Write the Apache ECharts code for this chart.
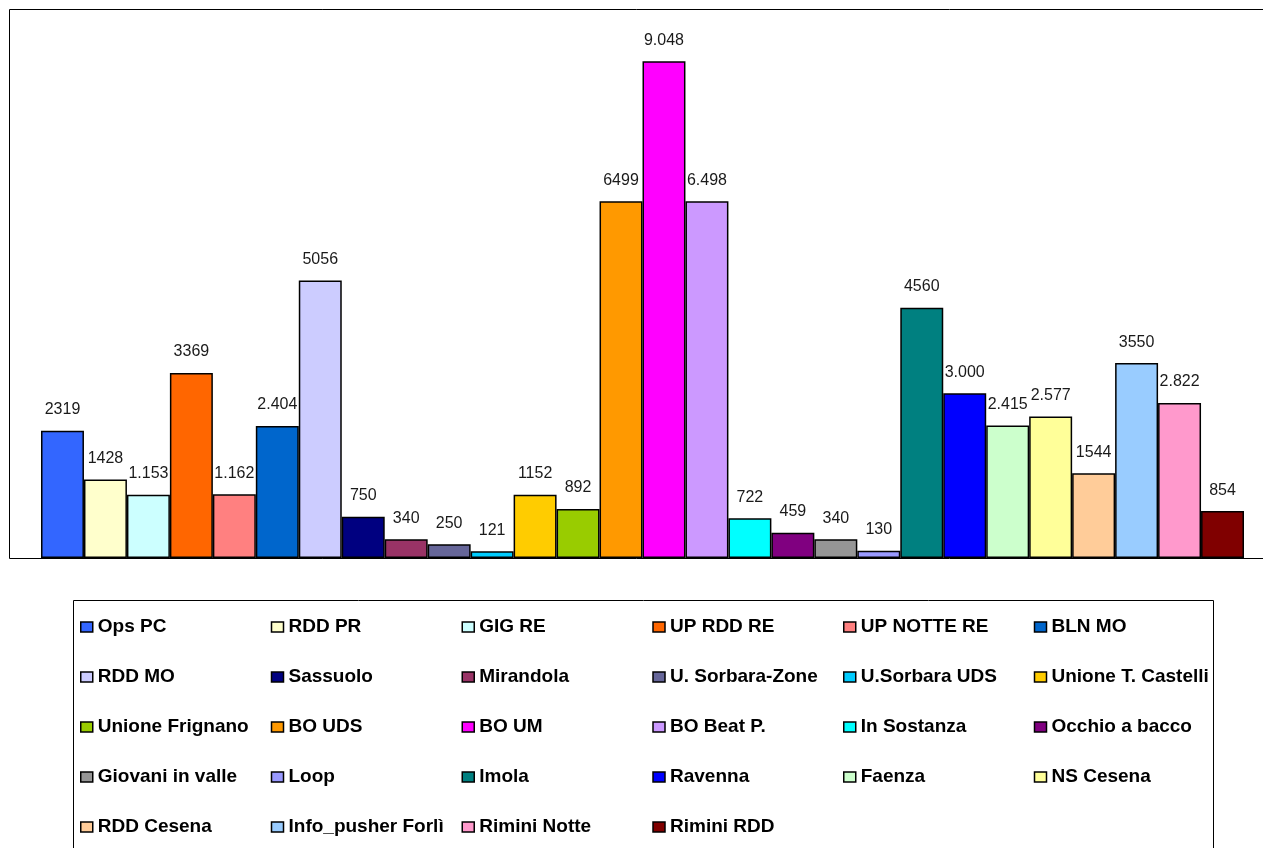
<!DOCTYPE html>
<html>
<head>
<meta charset="utf-8">
<script src="https://cdn.jsdelivr.net/npm/echarts@6/dist/echarts.min.js"></script>
<style>
html,body{margin:0;padding:0;background:#fff;}
#chart{width:1263px;height:848px;}
</style>
</head>
<body>
<div id="chart"></div>
<script>
const names = ['Ops PC','RDD PR','GIG RE','UP RDD RE','UP NOTTE RE','BLN MO',
  'RDD MO','Sassuolo','Mirandola','U. Sorbara-Zone','U.Sorbara UDS','Unione T. Castelli',
  'Unione Frignano','BO UDS','BO UM','BO Beat P.','In Sostanza','Occhio a bacco',
  'Giovani in valle','Loop','Imola','Ravenna','Faenza','NS Cesena',
  'RDD Cesena','Info_pusher Forlì','Rimini Notte','Rimini RDD'];
const values = [2319,1428,1153,3369,1162,2404,5056,750,340,250,121,1152,892,6499,9048,6498,722,459,340,130,4560,3000,2415,2577,1544,3550,2822,854];
const valueLabels = ['2319','1428','1.153','3369','1.162','2.404','5056','750','340','250','121','1152','892','6499','9.048','6.498','722','459','340','130','4560','3.000','2.415','2.577','1544','3550','2.822','854'];
const colors = ['#3366FF','#FFFFCC','#CCFFFF','#FF6600','#FF8080','#0066CC',
  '#CCCCFF','#000080','#993366','#666699','#00CCFF','#FFCC00',
  '#99CC00','#FF9900','#FF00FF','#CC99FF','#00FFFF','#800080',
  '#969696','#9999FF','#008080','#0000FF','#CCFFCC','#FFFF99',
  '#FFCC99','#99CCFF','#FF99CC','#800000'];

const chart = echarts.init(document.getElementById('chart'), null, {renderer:'canvas'});
const series = names.map((n,i)=>({
  name:n, type:'bar', data:[values[i]],
  barGap:'0%', barCategoryGap:'0%',
  itemStyle:{color:colors[i], borderColor:'#000', borderWidth:1.5},
  label:{show:true, position:'top', distance:13, formatter:()=>valueLabels[i],
    fontFamily:'Liberation Sans, Arial, sans-serif', fontSize:16, lineHeight:16, color:'#1a1a1a'},
  emphasis:{disabled:true},
  animation:false
}));

chart.setOption({
  animation:false,
  backgroundColor:'#fff',
  grid:{left:41, top:9, width:1203, bottom:290, show:false, containLabel:false},
  xAxis:{type:'category', data:[''], axisLine:{show:false}, axisTick:{show:false}, axisLabel:{show:false}},
  yAxis:{type:'value', min:0, max:10000, show:false, splitLine:{show:false}},
  legend:{
    show:true, orient:'horizontal', left:80, top:602, width:1200,
    padding:0, itemGap:0, itemWidth:12, itemHeight:10, icon:'rect',
    itemStyle:{borderColor:'#000', borderWidth:1.5},
    textStyle:{fontFamily:'Liberation Sans, Arial, sans-serif', fontSize:19, fontWeight:'bold', color:'#000', width:173, lineHeight:50, overflow:'truncate', ellipsis:''},
    selectedMode:false,
    data:names
  },
  graphic:[
    {type:'polyline', shape:{points:[[1263,9.5],[9.5,9.5],[9.5,558.5],[1263,558.5]]}, style:{fill:'none', stroke:'#000', lineWidth:1}, silent:true, z:10},
    {type:'rect', shape:{x:73.5, y:600.5, width:1140, height:300}, style:{fill:'none', stroke:'#000', lineWidth:1}, silent:true, z:-1}
  ],
  series:series
});
</script>
</body>
</html>
